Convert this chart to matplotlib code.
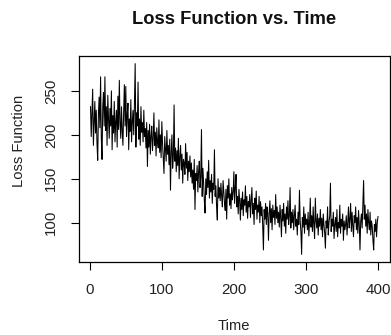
import matplotlib
matplotlib.use("Agg")
import matplotlib.pyplot as plt
import numpy as np

plt.rcParams['font.family'] = ['Liberation Sans', 'DejaVu Sans']

# Loss values, time steps 1..400
loss = [
    232, 198, 226, 252, 188, 214, 238, 202, 228, 190, 171, 224, 243, 208, 266, 196, 172, 232, 248, 210,
    266, 205, 232, 188, 245, 218, 196, 230, 210, 250, 183, 222, 202, 238, 192, 215, 228, 186, 244, 206,
    262, 214, 196, 232, 205, 188, 226, 257, 210, 255, 198, 222, 236, 183, 218, 204, 240, 192, 215, 228,
    200, 236, 281, 186, 225, 210, 260, 195, 218, 188, 232, 203, 214, 192, 228, 198, 207, 185, 214, 164,
    205, 186, 212, 178, 198, 210, 182, 195, 225, 188, 203, 176, 208, 192, 185, 217, 180, 200, 174, 215,
    190, 172, 156, 198, 184, 170, 205, 178, 188, 166, 195, 137, 180, 200, 162, 176, 234, 170, 185, 158,
    182, 165, 196, 150, 175, 188, 160, 178, 145, 172, 168, 155, 190, 162, 180, 148, 170, 158, 176, 152,
    168, 145, 160, 138, 172, 115, 156, 148, 165, 135, 158, 170, 140, 152, 206, 130, 162, 145, 125, 111,
    150, 132, 158, 140, 171, 128, 148, 135, 155, 122, 145, 138, 183, 130, 142, 118, 103, 150, 128, 140,
    125, 145, 130, 118, 148, 135, 122, 114, 138, 104, 142, 128, 150, 120, 133, 116, 140, 126, 135, 158,
    122, 140, 155, 118, 130, 110, 138, 125, 103, 128, 115, 135, 108, 126, 120, 142, 112, 130, 105, 124,
    118, 132, 106, 125, 140, 110, 122, 98, 128, 115, 136, 104, 120, 112, 130, 100, 124, 108, 118, 96,
    69, 115, 104, 122, 98, 118, 110, 80, 112, 125, 100, 116, 92, 120, 106, 114, 98, 132, 105, 118,
    100, 112, 95, 120, 106, 84, 115, 102, 122, 96, 110, 88, 118, 104, 125, 98, 108, 140, 94, 112,
    100, 115, 92, 108, 120, 96, 104, 86, 112, 98, 137, 102, 90, 64, 106, 95, 118, 88, 110, 98,
    104, 92, 112, 85, 100, 128, 95, 108, 90, 118, 98, 82, 128, 102, 94, 110, 86, 105, 96, 115,
    92, 105, 84, 110, 98, 88, 71, 102, 94, 118, 86, 100, 108, 145, 90, 104, 96, 112, 82, 98,
    106, 90, 115, 84, 100, 94, 120, 88, 104, 96, 110, 80, 102, 92, 98, 108, 86, 100, 118, 94,
    104, 122, 90, 112, 96, 84, 108, 100, 118, 92, 106, 88, 114, 98, 69, 102, 110, 94, 120, 148,
    104, 120, 96, 110, 88, 115, 100, 92, 112, 86, 102, 96, 80, 69, 98, 90, 104, 84, 100, 107,
]
time = list(range(1, len(loss) + 1))
x_ticks = [0, 100, 200, 300, 400]
y_ticks = [100, 150, 200, 250]

W, H = 391, 335
fig = plt.figure(figsize=(W / 100, H / 100), dpi=100)
left, right, top, bottom = 79, 389.5, 56, 262
ax = fig.add_axes([left / W, 1 - bottom / H, (right - left) / W, (bottom - top) / H])

ax.plot(time, loss, color='black', linewidth=0.75)

n = len(loss)
xr = (n - 1) * 0.04
ax.set_xlim(1 - xr, n + xr)
ymin, ymax = min(loss), max(loss)
yr = (ymax - ymin) * 0.04
ax.set_ylim(ymin - yr, ymax + yr)

ax.set_xticks(x_ticks)
ax.set_yticks(y_ticks)
ax.set_xticklabels([str(v) for v in x_ticks])
ax.set_yticklabels([str(v) for v in y_ticks], rotation=90, va='center')
ax.tick_params(axis='both', direction='out', length=6, width=0.8, colors='black',
               labelsize=10.9, labelcolor='#222222', pad=9)
for s in ax.spines.values():
    s.set_linewidth(0.9)
    s.set_color('black')

fig.text(234 / W, 1 - 20 / H, 'Loss Function vs. Time', ha='center', va='center',
         fontsize=13.2, fontweight='bold', color='#111111')
fig.text(234 / W, 1 - 326 / H, 'Time', ha='center', va='center', fontsize=10.6, color='#222222')
fig.text(19.5 / W, 1 - 141 / H, 'Loss Function', ha='center', va='center', rotation=90,
         fontsize=10.6, color='#222222')

fig.savefig('out.png', dpi=100)
